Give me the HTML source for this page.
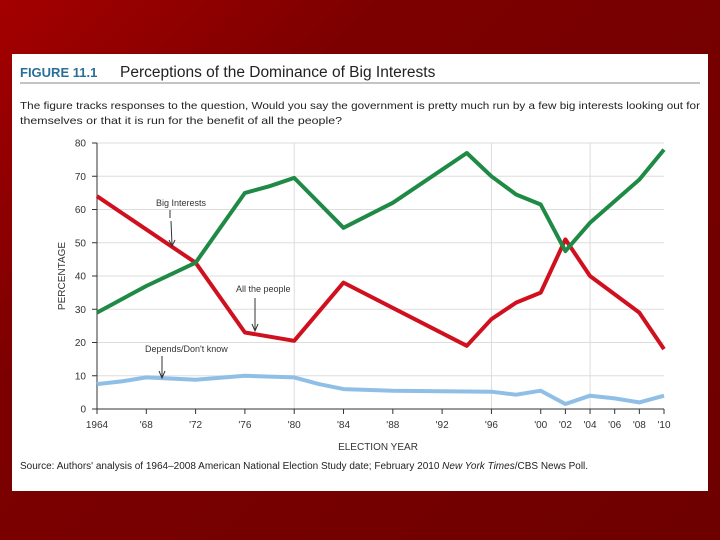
<!DOCTYPE html>
<html><head><meta charset="utf-8"><style>
body{margin:0;width:720px;height:540px;overflow:hidden;background:linear-gradient(135deg,#a40000 0%,#7d0000 30%,#6e0000 100%);font-family:"Liberation Sans",sans-serif;}
#panel{position:absolute;left:12px;top:54px;width:696px;height:437px;background:#fff;}
svg text{font-family:"Liberation Sans",sans-serif;}
</style></head><body>
<div id="panel">
<svg width="696" height="437" viewBox="12 54 696 437" font-family="Liberation Sans, sans-serif" id="svg">
<text x="20" y="77" font-size="13" font-weight="bold" fill="#2a6f9a">FIGURE 11.1</text>
<text x="120" y="77" font-size="15.5" fill="#222">Perceptions of the Dominance of Big Interests</text>
<line x1="20" y1="83" x2="700" y2="83" stroke="#888" stroke-width="1"/>
<text x="20" y="109" font-size="10.5" fill="#222" textLength="680" lengthAdjust="spacingAndGlyphs">The figure tracks responses to the question, Would you say the government is pretty much run by a few big interests looking out for</text>
<text x="20" y="124" font-size="10.5" fill="#222" textLength="322" lengthAdjust="spacingAndGlyphs">themselves or that it is run for the benefit of all the people?</text>
<g id="grid"></g><g id="axes"></g><g id="series"></g>
<text x="378" y="450" font-size="10" fill="#333" text-anchor="middle">ELECTION YEAR</text>
<text transform="translate(65,276) rotate(-90)" font-size="10" fill="#333" text-anchor="middle">PERCENTAGE</text>
<text x="156" y="206" font-size="9" fill="#333">Big Interests</text>
<line x1="170" y1="210" x2="170" y2="218" stroke="#333"/>
<path d="M171 221 L172 245 M169 240 L172 246 L175 240" stroke="#333" fill="none"/>
<text x="236" y="292" font-size="9" fill="#333">All the people</text>
<path d="M255 298 L255 330 M252 324 L255 331 L258 324" stroke="#333" fill="none"/>
<text x="145" y="352" font-size="9" fill="#333">Depends/Don't know</text>
<path d="M162 356 L162 377 M159 371 L162 378 L165 371" stroke="#333" fill="none"/>
<text x="20" y="469" font-size="10" fill="#222">Source: Authors' analysis of 1964–2008 American National Election Study date; February 2010 <tspan font-style="italic">New York Times</tspan>/CBS News Poll.</text>
</svg></div>
<script>
const yTicks=[0,10,20,30,40,50,60,70,80];
const xTickYears=[1964,1968,1972,1976,1980,1984,1988,1992,1996,2000,2002,2004,2006,2008,2010];
const xTickLabels=["1964","'68","'72","'76","'80","'84","'88","'92","'96","'00","'02","'04","'06","'08","'10"];
const vGridYears=[1980,1996,2004];
const bigYears=[1964,1968,1972,1976,1978,1980,1984,1988,1994,1996,1998,2000,2002,2004,2008,2010];
const bigValues=[29,37,44,65,67,69.5,54.5,62,77,70,64.5,61.5,47.5,56,69,78];
const peopleYears=[1964,1972,1976,1980,1984,1994,1996,1998,2000,2002,2004,2008,2010];
const peopleValues=[64,44,23,20.5,38,19,27,32,35,51,40,29,18];
const dkYears=[1964,1966,1968,1972,1976,1980,1982,1984,1988,1996,1998,2000,2002,2004,2006,2008,2010];
const dkValues=[7.5,8.3,9.5,8.8,10,9.5,7.5,6,5.5,5.2,4.3,5.5,1.5,4,3.2,2,4];
const NS="http://www.w3.org/2000/svg";
const X=y=>97+(y-1964)*(567/46);
const Y=v=>409-v*(266/80);
function mk(tag,attrs,parent){const e=document.createElementNS(NS,tag);for(const k in attrs)e.setAttribute(k,attrs[k]);parent.appendChild(e);return e;}
const grid=document.getElementById('grid'),axes=document.getElementById('axes'),ser=document.getElementById('series');
yTicks.forEach(t=>{if(t>0){const l=mk('line',{x1:97,x2:664,y1:Y(t),y2:Y(t),stroke:'#ddd','stroke-width':1},grid);

}
const tk=mk('line',{x1:92,x2:97,y1:Y(t),y2:Y(t),stroke:'#333'},axes);


const tx=mk('text',{x:86,y:Y(t)+3.5,'font-size':10,fill:'#333','text-anchor':'end'},axes);tx.textContent=t;

});
vGridYears.forEach(yr=>{const l=mk('line',{x1:X(yr),x2:X(yr),y1:Y(0),y2:Y(80),stroke:'#ddd'},grid);

});
xTickYears.forEach((yr,i)=>{const tk=mk('line',{x1:X(yr),x2:X(yr),y1:409,y2:414,stroke:'#333'},axes);


const tx=mk('text',{x:X(yr),y:428,'font-size':10,fill:'#333','text-anchor':'middle'},axes);tx.textContent=xTickLabels[i];

});
const ax=mk('path',{d:`M97 ${Y(80)} L97 409 L664 409`,stroke:'#333',fill:'none'},axes);


function line(xs,vs,color,name){const d=xs.map((yr,i)=>(i?'L':'M')+X(yr).toFixed(1)+' '+Y(vs[i]).toFixed(1)).join(' ');
const p=mk('path',{d:d,stroke:color,'stroke-width':4,fill:'none','stroke-linejoin':'round'},ser);

}
line(dkYears,dkValues,'#8fbfe6','line-depends-dont-know');
line(peopleYears,peopleValues,'#d0101e','line-all-the-people');
line(bigYears,bigValues,'#1f8a45','line-big-interests');
</script>
</body></html>
